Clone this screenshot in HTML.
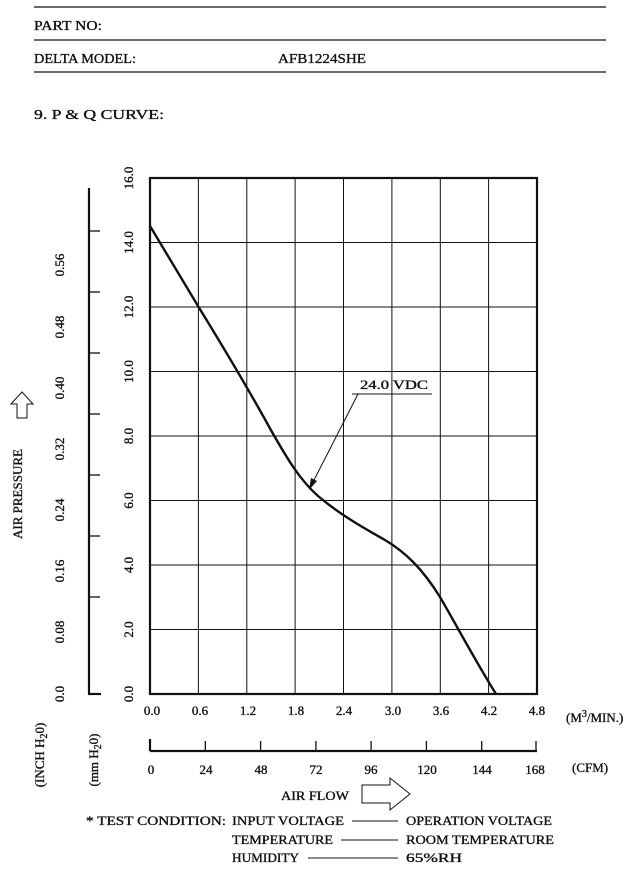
<!DOCTYPE html>
<html><head><meta charset="utf-8"><style>
html,body{margin:0;padding:0;background:#fff;}
svg{display:block;}
text{font-family:"Liberation Serif",serif;fill:#111;stroke:#111;stroke-width:0.35;}
</style></head><body>
<svg width="640" height="894" viewBox="0 0 640 894" xmlns="http://www.w3.org/2000/svg">
<g stroke="#111" stroke-width="1.3">
<line x1="34" y1="7" x2="606" y2="7"/>
<line x1="34" y1="40" x2="606" y2="40"/>
<line x1="34" y1="72" x2="606" y2="72"/>
</g>
<g font-size="14">
<text x="34" y="30" textLength="68" lengthAdjust="spacingAndGlyphs">PART NO:</text>
<text x="34" y="63" textLength="102" lengthAdjust="spacingAndGlyphs">DELTA MODEL:</text>
<text x="278" y="63" textLength="88" lengthAdjust="spacingAndGlyphs">AFB1224SHE</text>
<text x="34" y="119" textLength="130" lengthAdjust="spacingAndGlyphs">9. P &amp; Q CURVE:</text>
</g>
<g stroke="#111" stroke-width="1">
<line x1="198.4" y1="178" x2="198.4" y2="694"/>
<line x1="246.8" y1="178" x2="246.8" y2="694"/>
<line x1="295.1" y1="178" x2="295.1" y2="694"/>
<line x1="343.5" y1="178" x2="343.5" y2="694"/>
<line x1="391.9" y1="178" x2="391.9" y2="694"/>
<line x1="440.3" y1="178" x2="440.3" y2="694"/>
<line x1="488.6" y1="178" x2="488.6" y2="694"/>
<line x1="150" y1="242.5" x2="537" y2="242.5"/>
<line x1="150" y1="307" x2="537" y2="307"/>
<line x1="150" y1="371.5" x2="537" y2="371.5"/>
<line x1="150" y1="436" x2="537" y2="436"/>
<line x1="150" y1="500.5" x2="537" y2="500.5"/>
<line x1="150" y1="565" x2="537" y2="565"/>
<line x1="150" y1="629.5" x2="537" y2="629.5"/>
</g>
<rect x="150" y="178" width="387" height="516" fill="none" stroke="#111" stroke-width="2.2"/>
<path d="M150,226 L198,306 C222,345 250,392 272,432 C288,460 300,480 318,496 C338,513 360,526 385,540 C405,552 422,568 440,597 C458,628 476,662 496,694" fill="none" stroke="#111" stroke-width="2.4"/>
<text x="360" y="389" font-size="12.5" textLength="68" lengthAdjust="spacingAndGlyphs">24.0 VDC</text>
<line x1="352" y1="394" x2="432" y2="394" stroke="#111" stroke-width="1"/>
<line x1="358" y1="394" x2="312" y2="484" stroke="#111" stroke-width="1"/>
<path d="M309,490 L311,478 L317,481 Z" fill="#111"/>
<g font-size="13">
<text transform="translate(133,694) rotate(-90)" text-anchor="middle">0.0</text>
<text transform="translate(133,629.5) rotate(-90)" text-anchor="middle">2.0</text>
<text transform="translate(133,565) rotate(-90)" text-anchor="middle">4.0</text>
<text transform="translate(133,500.5) rotate(-90)" text-anchor="middle">6.0</text>
<text transform="translate(133,436) rotate(-90)" text-anchor="middle">8.0</text>
<text transform="translate(133,371.5) rotate(-90)" text-anchor="middle">10.0</text>
<text transform="translate(133,307) rotate(-90)" text-anchor="middle">12.0</text>
<text transform="translate(133,242.5) rotate(-90)" text-anchor="middle">14.0</text>
<text transform="translate(133,178) rotate(-90)" text-anchor="middle">16.0</text>
</g>
<g stroke="#111">
<line x1="89" y1="188" x2="89" y2="694" stroke-width="2.2"/>
<line x1="88" y1="694" x2="101" y2="694" stroke-width="2.2"/>
<line x1="89" y1="231" x2="100" y2="231" stroke-width="1.3"/>
<line x1="89" y1="292" x2="100" y2="292" stroke-width="1.3"/>
<line x1="89" y1="353" x2="100" y2="353" stroke-width="1.3"/>
<line x1="89" y1="414" x2="100" y2="414" stroke-width="1.3"/>
<line x1="89" y1="475" x2="100" y2="475" stroke-width="1.3"/>
<line x1="89" y1="536" x2="100" y2="536" stroke-width="1.3"/>
<line x1="89" y1="597" x2="100" y2="597" stroke-width="1.3"/>
</g>
<g font-size="13">
<text transform="translate(64,694) rotate(-90)" text-anchor="middle">0.0</text>
<text transform="translate(64,632) rotate(-90)" text-anchor="middle">0.08</text>
<text transform="translate(64,571) rotate(-90)" text-anchor="middle">0.16</text>
<text transform="translate(64,510) rotate(-90)" text-anchor="middle">0.24</text>
<text transform="translate(64,449) rotate(-90)" text-anchor="middle">0.32</text>
<text transform="translate(64,388) rotate(-90)" text-anchor="middle">0.40</text>
<text transform="translate(64,327) rotate(-90)" text-anchor="middle">0.48</text>
<text transform="translate(64,265) rotate(-90)" text-anchor="middle">0.56</text>
<text transform="translate(22,494) rotate(-90)" text-anchor="middle" textLength="90" lengthAdjust="spacingAndGlyphs">AIR PRESSURE</text>
<text transform="translate(44,755) rotate(-90)" text-anchor="middle">(INCH H<tspan font-size="10" dy="3">2</tspan><tspan dy="-3">0)</tspan></text>
<text transform="translate(98,760) rotate(-90)" text-anchor="middle">(mm H<tspan font-size="10" dy="3">2</tspan><tspan dy="-3">0)</tspan></text>
</g>
<path d="M11,404 L22,392 L33,404 L27,404 L27,418 L17,418 L17,404 Z" fill="none" stroke="#111" stroke-width="1"/>
<g font-size="13" text-anchor="middle">
<text x="152" y="715">0.0</text><text x="200" y="715">0.6</text><text x="248" y="715">1.2</text>
<text x="296" y="715">1.8</text><text x="344" y="715">2.4</text><text x="393" y="715">3.0</text>
<text x="441" y="715">3.6</text><text x="489" y="715">4.2</text><text x="537" y="715">4.8</text>
</g>
<text x="566" y="722" font-size="13">(M<tspan font-size="10" dy="-5">3</tspan><tspan dy="5">/MIN.)</tspan></text>
<g stroke="#111">
<line x1="150" y1="751" x2="537" y2="751" stroke-width="2.2"/>
<line x1="150" y1="739" x2="150" y2="751" stroke-width="2.2"/>
<line x1="205.3" y1="741" x2="205.3" y2="751" stroke-width="1.3"/>
<line x1="260.6" y1="741" x2="260.6" y2="751" stroke-width="1.3"/>
<line x1="315.9" y1="741" x2="315.9" y2="751" stroke-width="1.3"/>
<line x1="371.1" y1="741" x2="371.1" y2="751" stroke-width="1.3"/>
<line x1="426.4" y1="741" x2="426.4" y2="751" stroke-width="1.3"/>
<line x1="481.7" y1="741" x2="481.7" y2="751" stroke-width="1.3"/>
<line x1="536" y1="741" x2="536" y2="751" stroke-width="1.3"/>
</g>
<g font-size="13" text-anchor="middle">
<text x="151" y="774">0</text><text x="206" y="774">24</text><text x="261" y="774">48</text>
<text x="316" y="774">72</text><text x="371" y="774">96</text><text x="427" y="774">120</text>
<text x="482" y="774">144</text><text x="535" y="774">168</text>
</g>
<text x="572" y="772" font-size="13">(CFM)</text>
<text x="281" y="800" font-size="13" textLength="68" lengthAdjust="spacingAndGlyphs">AIR FLOW</text>
<path d="M362,785 L390,785 L390,778 L410,794 L390,810 L390,803 L362,803 Z" fill="none" stroke="#111" stroke-width="1"/>
<g font-size="13">
<text x="86" y="825" textLength="140" lengthAdjust="spacingAndGlyphs">* TEST CONDITION:</text>
<text x="232" y="825" textLength="112" lengthAdjust="spacingAndGlyphs">INPUT VOLTAGE</text>
<text x="406" y="825" textLength="146" lengthAdjust="spacingAndGlyphs">OPERATION VOLTAGE</text>
<text x="232" y="844" textLength="101" lengthAdjust="spacingAndGlyphs">TEMPERATURE</text>
<text x="406" y="844" textLength="148" lengthAdjust="spacingAndGlyphs">ROOM TEMPERATURE</text>
<text x="232" y="862" textLength="67" lengthAdjust="spacingAndGlyphs">HUMIDITY</text>
<text x="406" y="862" textLength="56" lengthAdjust="spacingAndGlyphs">65%RH</text>
</g>
<g stroke="#111" stroke-width="1">
<line x1="352" y1="821" x2="398" y2="821"/>
<line x1="341" y1="840" x2="398" y2="840"/>
<line x1="308" y1="858" x2="398" y2="858"/>
</g>
</svg>
</body></html>
